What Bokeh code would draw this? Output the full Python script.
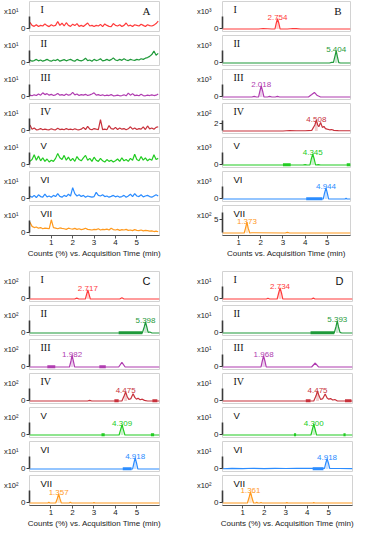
from bokeh.plotting import figure
from bokeh.layouts import column, row
from bokeh.models import (Label, FixedTicker, Spacer, LinearAxis, Range1d,
                          CustomJSTickFormatter)
from bokeh.core.properties import value
from bokeh.embed import file_html
from bokeh.resources import INLINE

ROMAN = ["I", "II", "III", "IV", "V", "VI", "VII"]
COLORS = ["#ff3b3b", "#1f9a3a", "#b03cb0", "#c8323c", "#22cc22", "#2b8cff", "#ff9a1f"]
SUP = {1: "\u00b9", 2: "\u00b2", 3: "\u00b3"}

# ---------------- Panel A : blank (noise only), counts x10^1 ----------------
T_A = [0.0, 0.1, 0.2, 0.3, 0.4, 0.5, 0.6, 0.7, 0.8, 0.9,
       1.0, 1.1, 1.2, 1.3, 1.4, 1.5, 1.6, 1.7, 1.8, 1.9,
       2.0, 2.1, 2.2, 2.3, 2.4, 2.5, 2.6, 2.7, 2.8, 2.9,
       3.0, 3.1, 3.2, 3.3, 3.4, 3.5, 3.6, 3.7, 3.8, 3.9,
       4.0, 4.1, 4.2, 4.3, 4.4, 4.5, 4.6, 4.7, 4.8, 4.9,
       5.0, 5.1, 5.2, 5.3, 5.4, 5.5, 5.6, 5.7, 5.8, 5.9, 6.0]
A_I = [0.55, 0.30, 0.22, 0.35, 0.20, 0.30, 0.25, 0.42, 0.28, 0.20,
       0.35, 0.25, 0.30, 0.62, 0.30, 0.48, 0.25, 0.52, 0.30, 0.22,
       0.40, 0.28, 0.45, 0.22, 0.30, 0.20, 0.35, 0.50, 0.25, 0.30,
       0.20, 0.30, 0.25, 0.38, 0.20, 0.42, 0.30, 0.22, 0.20, 0.45,
       0.30, 0.25, 0.35, 0.20, 0.30, 0.50, 0.25, 0.32, 0.20, 0.35,
       0.30, 0.25, 0.40, 0.30, 0.20, 0.35, 0.28, 0.25, 0.32, 0.45, 0.65]
A_II = [0.25, 0.15, 0.20, 0.30, 0.18, 0.25, 0.15, 0.22, 0.30, 0.20,
        0.15, 0.25, 0.20, 0.30, 0.15, 0.22, 0.28, 0.18, 0.25, 0.30,
        0.20, 0.15, 0.30, 0.22, 0.18, 0.25, 0.40, 0.20, 0.25, 0.15,
        0.30, 0.20, 0.25, 0.35, 0.18, 0.22, 0.30, 0.20, 0.28, 0.42,
        0.25, 0.20, 0.30, 0.22, 0.35, 0.25, 0.20, 0.30, 0.25, 0.22,
        0.30, 0.25, 0.35, 0.30, 0.40, 0.45, 0.55, 0.70, 1.00, 0.65, 0.80]
A_III = [0.15, 0.10, 0.18, 0.12, 0.25, 0.15, 0.35, 0.20, 0.28, 0.15,
         0.22, 0.12, 0.18, 0.30, 0.15, 0.20, 0.12, 0.25, 0.15, 0.20,
         0.38, 0.18, 0.25, 0.12, 0.20, 0.15, 0.22, 0.12, 0.18, 0.25,
         0.35, 0.15, 0.20, 0.12, 0.18, 0.10, 0.15, 0.12, 0.20, 0.10,
         0.12, 0.15, 0.10, 0.12, 0.18, 0.10, 0.32, 0.15, 0.28, 0.12,
         0.15, 0.10, 0.22, 0.12, 0.10, 0.15, 0.12, 0.18, 0.12, 0.15, 0.25]
A_IV = [0.50, 0.15, 0.25, 0.10, 0.12, 0.20, 0.10, 0.15, 0.12, 0.10,
        0.18, 0.12, 0.10, 0.22, 0.12, 0.15, 0.10, 0.20, 0.12, 0.15,
        0.10, 0.18, 0.12, 0.10, 0.15, 0.30, 0.12, 0.38, 0.15, 0.10,
        0.20, 0.15, 0.12, 0.95, 0.12, 0.15, 0.10, 0.45, 0.20, 0.15,
        0.30, 0.12, 0.25, 0.15, 0.20, 0.10, 0.18, 0.35, 0.15, 0.25,
        0.12, 0.20, 0.15, 0.35, 0.12, 0.42, 0.18, 0.25, 0.15, 0.30, 0.35]
A_V = [0.30, 0.45, 0.85, 0.40, 0.75, 0.35, 0.60, 0.30, 0.50, 0.25,
       0.40, 0.30, 0.55, 0.95, 0.60, 0.45, 0.80, 0.40, 0.65, 0.35,
       0.55, 0.30, 0.70, 0.45, 0.35, 0.60, 0.80, 0.40, 0.55, 0.30,
       0.65, 0.40, 0.30, 0.55, 0.35, 0.25, 0.45, 0.30, 0.40, 0.25,
       0.35, 0.50, 0.30, 0.60, 0.35, 0.45, 0.30, 0.55, 0.40, 0.90,
       0.45, 0.35, 0.70, 0.40, 0.60, 0.35, 0.50, 0.40, 0.85, 0.45, 0.55]
A_VI = [0.25, 0.15, 0.30, 0.12, 0.35, 0.20, 0.15, 0.40, 0.18, 0.25,
        0.15, 0.30, 0.20, 0.45, 0.22, 0.15, 0.30, 0.20, 0.40, 0.25,
        0.95, 0.45, 0.25, 0.35, 0.20, 0.30, 0.15, 0.25, 0.20, 0.15,
        0.20, 0.55, 0.30, 0.25, 0.35, 0.20, 0.25, 0.15, 0.22, 0.30,
        0.18, 0.25, 0.15, 0.20, 0.30, 0.15, 0.25, 0.40, 0.20, 0.45,
        0.25, 0.20, 0.35, 0.18, 0.25, 0.30, 0.20, 0.15, 0.25, 0.35, 0.25]
A_VII = [0.90, 0.55, 0.45, 0.50, 0.40, 0.45, 0.35, 0.40, 0.38, 0.35,
         1.10, 0.45, 0.40, 0.35, 0.42, 0.38, 0.35, 0.30, 0.40, 0.35,
         0.32, 0.38, 0.30, 0.35, 0.28, 0.32, 0.40, 0.30, 0.28, 0.25,
         0.30, 0.28, 0.35, 0.25, 0.30, 0.28, 0.32, 0.25, 0.40, 0.28,
         0.25, 0.30, 0.22, 0.28, 0.25, 0.30, 0.22, 0.25, 0.20, 0.28,
         0.22, 0.20, 0.25, 0.18, 0.22, 0.20, 0.15, 0.18, 0.12, 0.15, 0.10]

# ---------------- Panel B ----------------
B_EXP = [3, 3, 3, 2, 3, 3, 2]
B_BASE = [0, 0, 0, 1.4, 0, 0, 3.9]
B_TICK = [0, 0, 0, 2, 0, 0, 5]
B_AXTOP = [1.0, 1.0, 1.0, 2.3, 1.0, 1.0, 5.6]
B_X = [
    [0.27, 1.9, 2.1, 2.3, 2.5, 2.64, 2.70, 2.754, 2.81, 2.87, 3.2, 3.45, 3.6, 3.8, 6.05],
    [0.27, 5.1, 5.2, 5.28, 5.34, 5.404, 5.46, 5.52, 5.6, 6.05],
    [0.27, 1.6, 1.7, 1.8, 1.9, 1.96, 2.018, 2.08, 2.14, 2.3, 2.4, 2.5, 2.65, 2.75, 2.85, 4.15, 4.3, 4.42, 4.55, 4.7, 6.05],
    [0.27, 3.0, 3.3, 3.6, 4.0, 4.3, 4.44, 4.508, 4.57, 4.62, 4.70, 4.78, 4.85, 4.92, 5.0, 5.1, 5.2, 5.3, 5.5, 6.05],
    [0.27, 3.9, 4.0, 4.1, 4.22, 4.28, 4.345, 4.41, 4.47, 4.6, 4.7, 6.05],
    [0.27, 4.82, 4.88, 4.944, 5.0, 5.06, 5.8, 5.85, 5.9, 6.05],
    [0.27, 1.25, 1.31, 1.373, 1.43, 1.5, 1.6, 3.1, 3.2, 3.3, 6.05],
]
B_Y = [
    [0, 0, 0.04, 0.02, 0, 0, 0.5, 0.85, 0.5, 0, 0, 0.04, 0.03, 0, 0],
    [0, 0, 0.05, 0.05, 0.5, 1.0, 0.5, 0.03, 0, 0],
    [0, 0, 0.05, 0, 0, 0.5, 0.92, 0.5, 0, 0, 0.05, 0, 0, 0.05, 0, 0, 0.2, 0.38, 0.12, 0, 0],
    [1.4, 1.4, 1.44, 1.42, 1.42, 1.45, 1.9, 2.3, 1.9, 1.75, 2.1, 1.7, 1.78, 1.6, 1.55, 1.5, 1.52, 1.45, 1.43, 1.42],
    [0, 0, 0.03, 0, 0, 0.5, 0.92, 0.5, 0, 0.03, 0, 0],
    [0, 0, 0.5, 0.92, 0.5, 0, 0, 0.05, 0, 0],
    [3.9, 3.9, 4.3, 4.8, 4.3, 3.9, 3.92, 3.9, 3.95, 3.9, 3.9],
]
B_PEAK = [2.754, 5.404, 2.018, 4.508, 4.345, 4.944, 1.373]
B_PEAKLBL = ["2.754", "5.404", "2.018", "4.508", "4.345", "4.944", "1.373"]
B_BANDS = [[], [], [], [], [(3.0, 3.35), (5.88, 6.05)], [(4.05, 4.78)], []]

# ---------------- Panel C ----------------
C_EXP = [2, 2, 2, 2, 2, 1, 2]
C_X = [
    [0.0, 2.1, 2.2, 2.3, 2.6, 2.66, 2.717, 2.77, 2.83, 4.2, 4.3, 4.4, 6.05],
    [0.0, 5.25, 5.34, 5.398, 5.46, 5.52, 5.6, 5.7, 6.05],
    [0.0, 1.86, 1.93, 1.982, 2.04, 2.1, 4.15, 4.3, 4.45, 6.05],
    [0.0, 2.7, 2.8, 2.9, 4.3, 4.41, 4.475, 4.54, 4.62, 4.72, 4.82, 4.9, 4.98, 5.05, 5.15, 5.25, 5.35, 5.5, 6.05],
    [0.0, 4.17, 4.24, 4.309, 4.37, 4.44, 6.05],
    [0.0, 4.8, 4.86, 4.918, 4.98, 5.04, 6.05],
    [0.0, 0.85, 0.9, 0.95, 1.22, 1.3, 1.357, 1.41, 1.48, 1.85, 1.9, 1.95, 2.95, 3.0, 3.05, 6.05],
]
C_Y = [
    [0, 0, 0.07, 0, 0, 0.4, 0.75, 0.4, 0, 0, 0.1, 0, 0],
    [0, 0, 0.5, 0.92, 0.5, 0.05, 0.08, 0, 0],
    [0, 0, 0.5, 0.97, 0.5, 0, 0, 0.38, 0, 0],
    [0, 0, 0.05, 0, 0, 0.45, 0.75, 0.4, 0.12, 0.2, 0.6, 0.3, 0.15, 0.22, 0.1, 0.15, 0.05, 0, 0],
    [0, 0, 0.45, 0.85, 0.45, 0, 0],
    [0, 0, 0.5, 0.92, 0.5, 0, 0],
    [0, 0, 0.05, 0, 0, 0.4, 0.75, 0.4, 0, 0, 0.06, 0, 0, 0.03, 0, 0],
]
C_PEAK = [2.717, 5.398, 1.982, 4.475, 4.309, 4.918, 1.357]
C_PEAKLBL = ["2.717", "5.398", "1.982", "4.475", "4.309", "4.918", "1.357"]
C_BANDS = [[], [(4.15, 5.25)], [(0.83, 1.2), (3.25, 3.55)], [(3.95, 4.15), (5.72, 5.95)],
           [(3.35, 3.5), (5.65, 5.8)], [(4.34, 4.75)], []]

# ---------------- Panel D ----------------
D_EXP = [1, 1, 1, 1, 1, 1, 2]
D_X = [
    [0.06, 2.1, 2.17, 2.25, 2.6, 2.67, 2.734, 2.8, 2.86, 4.2, 4.28, 4.36, 6.1],
    [0.06, 5.25, 5.33, 5.393, 5.45, 5.52, 5.6, 6.1],
    [0.06, 1.85, 1.91, 1.968, 2.03, 2.09, 4.2, 4.37, 4.52, 6.1],
    [0.06, 4.3, 4.41, 4.475, 4.54, 4.62, 4.72, 4.83, 4.92, 5.0, 5.08, 5.18, 5.28, 5.4, 6.1],
    [0.06, 4.17, 4.24, 4.300, 4.36, 4.43, 6.1],
    [0.06, 0.5, 1.0, 1.5, 2.0, 2.5, 3.0, 3.5, 4.0, 4.8, 4.86, 4.918, 4.98, 5.04, 5.5, 6.1],
    [0.06, 1.22, 1.3, 1.361, 1.42, 1.5, 1.6, 1.65, 1.7, 1.8, 1.85, 1.9, 3.0, 3.05, 3.1, 4.25, 4.3, 4.35, 6.1],
]
D_Y = [
    [0, 0, 0.06, 0, 0, 0.5, 0.92, 0.5, 0, 0, 0.07, 0, 0],
    [0, 0, 0.5, 1.0, 0.5, 0.05, 0, 0],
    [0, 0, 0.5, 0.92, 0.5, 0, 0, 0.33, 0, 0],
    [0, 0, 0.45, 0.83, 0.45, 0.12, 0.2, 0.58, 0.25, 0.15, 0.2, 0.08, 0.12, 0, 0],
    [0, 0, 0.5, 0.9, 0.5, 0, 0],
    [0.02, 0.05, 0.03, 0.06, 0.03, 0.05, 0.04, 0.06, 0.05, 0.05, 0.5, 0.85, 0.5, 0.05, 0.04, 0.03],
    [0, 0, 0.5, 0.92, 0.5, 0, 0, 0.05, 0, 0, 0.04, 0, 0, 0.03, 0, 0, 0.03, 0, 0],
]
D_PEAK = [2.734, 5.393, 1.968, 4.475, 4.300, 4.918, 1.361]
D_PEAKLBL = ["2.734", "5.393", "1.968", "4.475", "4.300", "4.918", "1.361"]
D_BANDS = [[], [(4.15, 5.25)], [], [(3.93, 4.15), (5.75, 6.05)], [(3.38, 3.48), (5.68, 5.78)],
           [(4.25, 4.75)], []]

X_TICKS = [1, 2, 3, 4, 5]
TITLE_PCT = "Counts (%) vs. Acquisition Time (min)"
TITLE_B = "Counts vs. Acquisition Time (min)"

FRAME_H = 30
SANS = "Liberation Sans"
SERIF = "Liberation Serif"


def make_panel(letter, xr, frame_w, bl, br, exps, bases, ticks, axtops,
               xs, ys, peaks, peak_lbls, bands, title):
    figs = []
    for i in range(7):
        bottom = i == 6
        yb = bases[i]
        y0, y1 = yb - 0.21, yb + 2.29
        ppu = FRAME_H / (y1 - y0)

        def y_at(px):
            return y1 - px / ppu

        bb = 27 if bottom else 3
        p = figure(width=bl + frame_w + br, height=1 + FRAME_H + bb,
                   x_range=xr, y_range=(y0, y1), toolbar_location=None,
                   output_backend="svg", min_border_left=bl, min_border_right=br,
                   min_border_top=1, min_border_bottom=bb,
                   x_axis_location="below" if bottom else None)
        p.outline_line_color = "#d2d2d2"
        p.grid.visible = False
        p.background_fill_color = "white"
        p.border_fill_color = "white"

        ya = p.yaxis[0]
        ya.ticker = FixedTicker(ticks=[ticks[i]])
        ya.bounds = (yb, axtops[i])
        ya.axis_line_width = 1.6
        ya.axis_line_color = "#3a3a3a"
        ya.major_tick_line_color = "#3a3a3a"
        ya.major_tick_out = 3
        ya.major_tick_in = 0
        ya.minor_tick_line_color = None
        ya.major_label_text_font = SANS
        ya.major_label_text_font_size = "8px"
        ya.major_label_text_color = "#222222"
        ya.major_label_standoff = 1

        # exponent ("x10^n") written as the tick label of a bare second axis
        p.extra_y_ranges = {"lab": Range1d(0, FRAME_H)}
        ax2 = LinearAxis(y_range_name="lab", ticker=FixedTicker(ticks=[20]),
                         formatter=CustomJSTickFormatter(code="return 'x10%s';" % SUP[exps[i]]),
                         axis_line_color=None, major_tick_line_color=None,
                         minor_tick_line_color=None, major_tick_out=0, major_tick_in=0,
                         major_label_standoff=0, major_label_text_font=SANS,
                         major_label_text_font_size="7.5px",
                         major_label_text_color="#222222")
        p.add_layout(ax2, "left")

        if bottom:
            xa = p.xaxis[0]
            xa.ticker = FixedTicker(ticks=X_TICKS)
            xa.axis_line_color = "#555555"
            xa.major_tick_line_color = "#555555"
            xa.major_tick_out = 3
            xa.major_tick_in = 0
            xa.minor_tick_line_color = None
            xa.major_label_text_font = SANS
            xa.major_label_text_font_size = "8px"
            xa.major_label_text_color = "#222222"
            xa.major_label_standoff = 1
            xa.axis_label = title
            xa.axis_label_text_font = SANS
            xa.axis_label_text_font_size = "8px"
            xa.axis_label_text_font_style = "normal"
            xa.axis_label_text_color = "#222222"
            xa.axis_label_standoff = 1

        col = COLORS[i]
        for (b0, b1) in bands[i]:
            p.line([b0, b1], [yb + 0.02, yb + 0.02], line_color=col, line_width=3.2)
        p.line(xs[i], ys[i], line_color=col, line_width=1.2)
        if peaks is not None:
            rt = peaks[i]
            px_ = [x for x in xs[i] if abs(x - rt) <= 0.09]
            py_ = [y for x, y in zip(xs[i], ys[i]) if abs(x - rt) <= 0.09]
            if px_:
                p.varea(x=px_, y1=[yb] * len(px_), y2=py_, fill_color=col, fill_alpha=0.25)
                top = max(py_)
                p.text(x=[rt], y=[top], text=[peak_lbls[i]], text_color=col,
                       text_font=value(SANS), text_font_size="8px",
                       text_align="center", text_baseline="middle", y_offset=-1)

        p.add_layout(Label(x=xr[0], y=y_at(8), x_offset=11, text=ROMAN[i],
                           text_font=SERIF if i < 4 else SANS,
                           text_font_size="10px" if i < 4 else "9.5px",
                           text_color="#111111", text_align="left", text_baseline="middle"))
        if i == 0:
            p.add_layout(Label(x=xr[1], y=y_at(9), x_offset=-9, text=letter,
                               text_font=SERIF if letter in "AB" else SANS,
                               text_font_size="11px", text_color="#111111",
                               text_align="right", text_baseline="middle"))
        figs.append(p)
    return figs


A_VALS = [A_I, A_II, A_III, A_IV, A_V, A_VI, A_VII]
figs_A = make_panel("A", (-0.02, 6.06), 133, 26, 4, [1] * 7, [0] * 7, [0] * 7, [1.0] * 7,
                    [T_A] * 7, A_VALS, None, None, [[]] * 7, TITLE_PCT)
figs_B = make_panel("B", (0.27, 6.05), 128, 59, 3, B_EXP, B_BASE, B_TICK, B_AXTOP,
                    B_X, B_Y, B_PEAK, B_PEAKLBL, B_BANDS, TITLE_B)
figs_C = make_panel("C", (0.0, 6.05), 133, 26, 4, C_EXP, [0] * 7, [0] * 7, [1.0] * 7,
                    C_X, C_Y, C_PEAK, C_PEAKLBL, C_BANDS, TITLE_PCT)
figs_D = make_panel("D", (0.06, 6.1), 131, 59, 2, D_EXP, [0] * 7, [0] * 7, [1.0] * 7,
                    D_X, D_Y, D_PEAK, D_PEAKLBL, D_BANDS, TITLE_PCT)

left = column(*figs_A, Spacer(width=10, height=8), *figs_C)
right = column(*figs_B, Spacer(width=10, height=8), *figs_D)
layout = row(left, right)

open("out.html", "w").write(file_html(layout, INLINE))
